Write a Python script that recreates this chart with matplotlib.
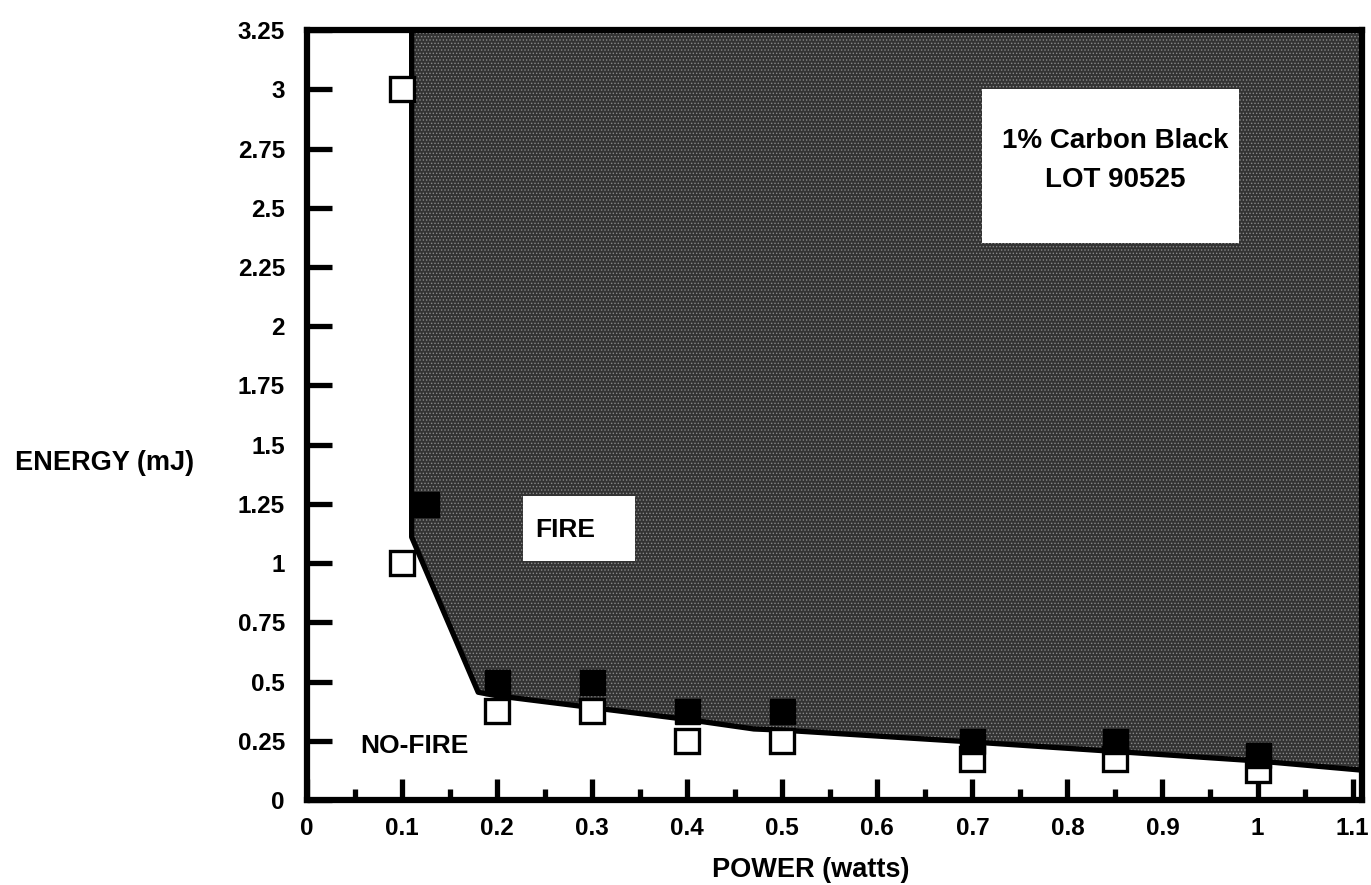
import matplotlib
matplotlib.use("Agg")
import matplotlib.pyplot as plt
from matplotlib.ticker import FixedLocator
from matplotlib.patches import Rectangle

plt.rcParams['font.family'] = ['Liberation Sans', 'DejaVu Sans']
plt.rcParams['font.weight'] = 'bold'
plt.rcParams['hatch.color'] = '#8a8a8a'
plt.rcParams['hatch.linewidth'] = 0.6

# Boundary between FIRE and NO-FIRE regions
boundary_x = [0.11, 0.11, 0.18, 0.2, 0.3, 0.4, 0.47, 0.5, 0.7, 0.85, 1.0, 1.11]
boundary_y = [3.25, 1.11, 0.455, 0.44, 0.39, 0.34, 0.30, 0.295, 0.245, 0.205, 0.165, 0.126]

# No-fire (open) points
nofire_x = [0.1, 0.1, 0.2, 0.3, 0.4, 0.5, 0.7, 0.85, 1.0]
nofire_y = [3.0, 1.0, 0.375, 0.375, 0.25, 0.25, 0.175, 0.175, 0.125]

# Fire (filled) points
fire_x = [0.125, 0.2, 0.3, 0.4, 0.5, 0.7, 0.85, 1.0]
fire_y = [1.25, 0.5, 0.5, 0.375, 0.375, 0.25, 0.25, 0.19]

xticks = [0, 0.1, 0.2, 0.3, 0.4, 0.5, 0.6, 0.7, 0.8, 0.9, 1, 1.1]
xticklabels = ["0", "0.1", "0.2", "0.3", "0.4", "0.5", "0.6", "0.7", "0.8", "0.9", "1", "1.1"]
yticks = [0, 0.25, 0.5, 0.75, 1, 1.25, 1.5, 1.75, 2, 2.25, 2.5, 2.75, 3, 3.25]
yticklabels = ["0", "0.25", "0.5", "0.75", "1", "1.25", "1.5", "1.75", "2", "2.25", "2.5", "2.75", "3", "3.25"]

fig = plt.figure(figsize=(13.71, 8.85), dpi=100)
ax = fig.add_axes([0.224, 0.096, 0.7695, 0.870])
ax.set_xlim(0, 1.11)
ax.set_ylim(0, 3.25)

# Fire region fill
ax.fill_between(boundary_x, boundary_y, 3.25, facecolor='#333333', hatch='.....',
                edgecolor='#8a8a8a', zorder=1, linewidth=0)
ax.plot(boundary_x, boundary_y, color='black', lw=3.8, zorder=2, solid_capstyle='butt')

ax.plot(nofire_x, nofire_y, linestyle='none', marker='s', markersize=17,
        markerfacecolor='white', markeredgecolor='black', markeredgewidth=2.4, zorder=3)
ax.plot(fire_x, fire_y, linestyle='none', marker='s', markersize=18,
        markerfacecolor='black', markeredgecolor='black', markeredgewidth=1, zorder=4)

ax.set_xticks(xticks)
ax.set_xticklabels(xticklabels)
ax.xaxis.set_minor_locator(FixedLocator([0.05 + 0.1 * i for i in range(11)]))
ax.set_yticks(yticks)
ax.set_yticklabels(yticklabels)

ax.tick_params(axis='both', which='major', direction='in', width=3.8, labelsize=17.5)
ax.tick_params(axis='y', which='major', length=18, pad=16)
ax.tick_params(axis='x', which='major', length=15, pad=12)
ax.tick_params(axis='x', which='minor', direction='in', length=8, width=3.8)
for lab in ax.get_xticklabels() + ax.get_yticklabels():
    lab.set_fontweight('bold')

for sp in ax.spines.values():
    sp.set_linewidth(4.5)

fig.text(0.591, 0.017, "POWER (watts)", fontsize=19.5, fontweight='bold', ha='center', va='center')
fig.text(0.011, 0.477, "ENERGY (mJ)", fontsize=19.5, fontweight='bold', ha='left', va='center')

# Label boxes
ax.add_patch(Rectangle((0.710, 2.35), 0.270, 0.65, facecolor='white', edgecolor='none', zorder=5))
ax.text(0.850, 2.70, "1% Carbon Black\nLOT 90525", fontsize=20, fontweight='bold',
        ha='center', va='center', linespacing=1.65, zorder=6)
ax.add_patch(Rectangle((0.227, 1.01), 0.118, 0.275, facecolor='white', edgecolor='none', zorder=5))
ax.text(0.272, 1.14, "FIRE", fontsize=19, fontweight='bold', ha='center', va='center', zorder=6)
ax.text(0.056, 0.23, "NO-FIRE", fontsize=19, fontweight='bold', ha='left', va='center', zorder=5)

fig.savefig("out.png", dpi=100)
